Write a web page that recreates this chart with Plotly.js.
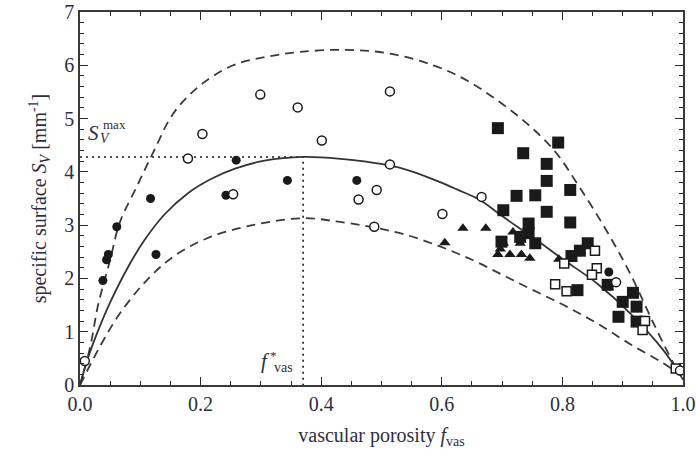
<!DOCTYPE html>
<html>
<head>
<meta charset="utf-8">
<script src="https://cdn.plot.ly/plotly-3.0.1.min.js"></script>
<style>html,body{margin:0;padding:0;background:#fff;}#chart{width:696px;height:457px;}</style>
</head>
<body>
<div id="chart"></div>
<script>
// ---- data ----
var solidX = [0, 0.013, 0.03, 0.05, 0.08, 0.107, 0.14, 0.179, 0.218, 0.257, 0.306, 0.37, 0.437, 0.475, 0.514, 0.55, 0.59, 0.625, 0.662, 0.70, 0.757, 0.802, 0.857, 0.912, 0.967, 0.995];
var solidY = [0, 0.5, 1.02, 1.55, 2.22, 2.72, 3.2, 3.6, 3.87, 4.06, 4.21, 4.28, 4.24, 4.19, 4.12, 4.01, 3.84, 3.67, 3.48, 3.17, 2.72, 2.35, 1.91, 1.35, 0.66, 0.2];

var upperX = [0, 0.017, 0.03, 0.05, 0.066, 0.094, 0.122, 0.155, 0.199, 0.254, 0.31, 0.365, 0.44, 0.514, 0.586, 0.641, 0.691, 0.741, 0.788, 0.829, 0.873, 0.912, 0.951, 0.984, 1.0];
var upperY = [0, 0.72, 1.5, 2.35, 3.05, 3.72, 4.38, 5.1, 5.62, 6.0, 6.16, 6.25, 6.29, 6.22, 6.0, 5.72, 5.35, 4.91, 4.38, 3.7, 2.9, 2.1, 1.16, 0.41, 0.1];

var lowerX = [0, 0.033, 0.066, 0.111, 0.155, 0.21, 0.282, 0.37, 0.431, 0.486, 0.54, 0.597, 0.65, 0.70, 0.746, 0.802, 0.857, 0.912, 0.967, 0.995];
var lowerY = [0, 0.72, 1.34, 1.97, 2.41, 2.75, 2.99, 3.13, 3.06, 2.96, 2.82, 2.6, 2.35, 2.07, 1.81, 1.5, 1.16, 0.77, 0.41, 0.2];

var optX = [0, 0.37, 0.37];
var optY = [4.28, 4.28, 0];

var filledCircleX = [0.038, 0.044, 0.047, 0.061, 0.117, 0.126, 0.242, 0.259, 0.344, 0.459, 0.877];
var filledCircleY = [1.96, 2.35, 2.45, 2.97, 3.50, 2.45, 3.56, 4.22, 3.84, 3.84, 2.12];

var openCircleX = [0.008, 0.179, 0.203, 0.254, 0.299, 0.361, 0.401, 0.514, 0.514, 0.492, 0.462, 0.488, 0.601, 0.666, 0.889, 0.995];
var openCircleY = [0.45, 4.25, 4.71, 3.58, 5.45, 5.21, 4.59, 5.51, 4.14, 3.66, 3.48, 2.97, 3.21, 3.53, 1.93, 0.27];

var filledSquareX = [0.693, 0.735, 0.793, 0.774, 0.774, 0.724, 0.755, 0.813, 0.702, 0.774, 0.813, 0.744, 0.744, 0.699, 0.730, 0.755, 0.842, 0.829, 0.815, 0.825, 0.875, 0.900, 0.917, 0.923, 0.893, 0.923];
var filledSquareY = [4.82, 4.35, 4.55, 4.15, 3.83, 3.55, 3.56, 3.66, 3.28, 3.25, 3.05, 3.03, 2.85, 2.69, 2.78, 2.66, 2.66, 2.52, 2.42, 1.78, 1.88, 1.56, 1.73, 1.47, 1.28, 1.19];

var openSquareX = [0.788, 0.807, 0.854, 0.857, 0.849, 0.803, 0.937, 0.933, 0.988];
var openSquareY = [1.89, 1.76, 2.52, 2.19, 2.07, 2.28, 1.20, 1.03, 0.31];

var triangleX = [0.605, 0.635, 0.673, 0.693, 0.697, 0.702, 0.713, 0.718, 0.730, 0.732, 0.746, 0.755, 0.794];
var triangleY = [2.67, 2.94, 2.94, 2.45, 2.55, 2.66, 2.45, 2.87, 2.66, 2.45, 2.38, 2.63, 2.36];

var xTickVals = [0, 0.2, 0.4, 0.6, 0.8, 1.0];
var xTickText = ['0.0', '0.2', '0.4', '0.6', '0.8', '1.0'];
var yTickVals = [0, 1, 2, 3, 4, 5, 6, 7];
var yTickText = ['0', '1', '2', '3', '4', '5', '6', '7'];

// ---- styling ----
var ink = '#1a1a1a';
var tickInk = '#2a2a2a';
var textCol = '#2e2e40';
var serif = 'Liberation Serif, Times New Roman, serif';

var traces = [
  {x: upperX, y: upperY, mode: 'lines', line: {color: '#3a3a3a', width: 1.8, dash: '9px,6px', shape: 'spline'}, hoverinfo: 'skip'},
  {x: lowerX, y: lowerY, mode: 'lines', line: {color: '#3a3a3a', width: 1.8, dash: '9px,6px', shape: 'spline'}, hoverinfo: 'skip'},
  {x: optX, y: optY, mode: 'lines', line: {color: ink, width: 1.6, dash: '2px,4px'}, hoverinfo: 'skip'},
  {x: solidX, y: solidY, mode: 'lines', line: {color: '#333', width: 1.8, shape: 'spline'}, hoverinfo: 'skip'},
  {x: triangleX, y: triangleY, mode: 'markers', marker: {symbol: 'triangle-up', size: 10, color: ink}},
  {x: filledSquareX, y: filledSquareY, mode: 'markers', marker: {symbol: 'square', size: 12, color: ink}},
  {x: openSquareX, y: openSquareY, mode: 'markers', marker: {symbol: 'square', size: 9, color: '#fff', line: {color: ink, width: 1.5}}},
  {x: filledCircleX, y: filledCircleY, mode: 'markers', marker: {symbol: 'circle', size: 9, color: ink}},
  {x: openCircleX, y: openCircleY, mode: 'markers', marker: {symbol: 'circle', size: 9, color: '#fff', line: {color: ink, width: 1.5}}}
];

function axis(vals, texts, minorStep, title, standoff) {
  return {
    range: [vals[0], vals[vals.length - 1]],
    tickmode: 'array', tickvals: vals, ticktext: texts,
    showline: true, linecolor: '#3a3a3a', linewidth: 1.5, mirror: 'allticks',
    ticks: 'inside', ticklen: 8, tickwidth: 1.3, tickcolor: tickInk,
    minor: {dtick: minorStep, ticks: 'inside', ticklen: 4, tickwidth: 1.2, tickcolor: tickInk, showgrid: false},
    showgrid: false, zeroline: false,
    tickfont: {family: serif, size: 20, color: textCol},
    title: {text: title, font: {family: serif, size: 20, color: textCol}, standoff: standoff}
  };
}

var layout = {
  width: 696, height: 457,
  margin: {l: 80, r: 13, t: 12, b: 72},
  paper_bgcolor: '#fff', plot_bgcolor: '#fff',
  showlegend: false,
  xaxis: axis(xTickVals, xTickText, 0.05, 'vascular porosity <i>f</i><sub>vas</sub>', 14),
  yaxis: axis(yTickVals, yTickText, 0.2, 'specific surface <i>S</i><sub><i>V</i></sub> [mm<sup>-1</sup>]', 12),
  annotations: [
    {xref: 'x', yref: 'y', x: 0.023, y: 4.72, text: '<i>S</i>', showarrow: false, font: {family: serif, size: 21, color: textCol}},
    {xref: 'x', yref: 'y', x: 0.042, y: 4.62, text: '<i>V</i>', showarrow: false, font: {family: serif, size: 14, color: textCol}},
    {xref: 'x', yref: 'y', x: 0.058, y: 4.88, text: 'max', showarrow: false, font: {family: serif, size: 13, color: textCol}},
    {xref: 'x', yref: 'y', x: 0.307, y: 0.45, text: '<i>f</i>', showarrow: false, font: {family: serif, size: 21, color: textCol}},
    {xref: 'x', yref: 'y', x: 0.321, y: 0.55, text: '*', showarrow: false, font: {family: serif, size: 13, color: textCol}},
    {xref: 'x', yref: 'y', x: 0.337, y: 0.33, text: 'vas', showarrow: false, font: {family: serif, size: 14, color: textCol}}
  ]
};

Plotly.newPlot('chart', traces, layout, {displayModeBar: false});
</script>
</body>
</html>
